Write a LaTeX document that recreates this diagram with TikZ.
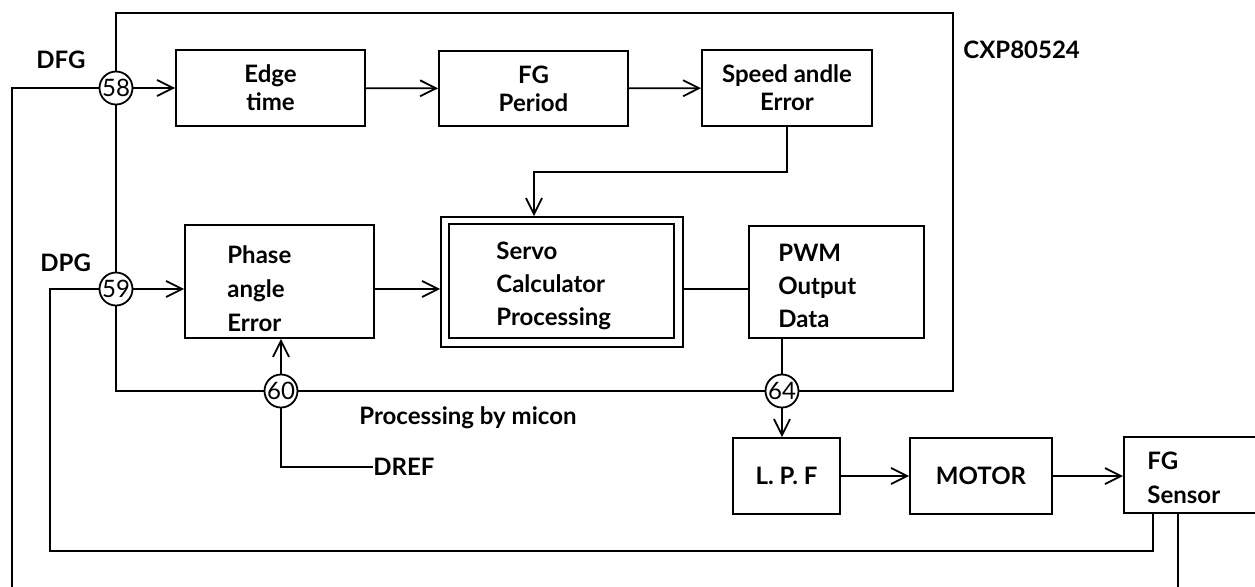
\documentclass[tikz,border=0pt]{standalone}
\usepackage{fontspec}
\setmainfont{Lato}
\usetikzlibrary{arrows.meta}
\begin{document}
\begin{tikzpicture}[x=0.5pt,y=-0.5pt,
  txt/.style={font=\bfseries\fontsize{12}{14}\selectfont, inner sep=0pt},
  box/.style={draw, line width=0.9pt, inner sep=0pt, font=\bfseries\fontsize{12}{14}\selectfont, align=center},
  pin/.style={draw, circle, fill=white, line width=0.9pt, inner sep=0pt, minimum size=16.5pt, font=\fontsize{12}{12}\selectfont},
  arr/.style={line width=0.9pt, -{Straight Barb[length=8pt,width=8pt,line width=0.9pt]}},
  ln/.style={line width=0.9pt},
  chip/.style={line width=1.3pt}]
\clip (0,0) rectangle (1255,586);
% chip outline
\draw[chip] (116,13) rectangle (953,391);
% blocks
\node[box, minimum width={189*0.5pt}, minimum height={76*0.5pt}] (edge) at (270.5,88) {Edge\\time};
\node[box, minimum width={189*0.5pt}, minimum height={75*0.5pt}] (fgp) at (533.5,88.5) {FG\\Period};
\node[box, minimum width={170*0.5pt}, minimum height={76*0.5pt}] (spd) at (787,88) {Speed andle\\Error};
\node[box, minimum width={189*0.5pt}, minimum height={113*0.5pt}] (phase) at (279.5,281.5) {};
\node[txt, anchor=west, align=left, font=\bfseries\fontsize{12}{17}\selectfont] (phaset) at (227,289) {Phase\\angle\\Error};
\node[box, minimum width={242*0.5pt}, minimum height={130*0.5pt}] (servo) at (562,282) {};
\node[box, minimum width={225*0.5pt}, minimum height={114*0.5pt}] (servoin) at (561.5,281) {};
\node[txt, anchor=west, align=left, font=\bfseries\fontsize{12}{16.5}\selectfont] (servot) at (496,286) {Servo\\Calculator\\Processing};
\node[box, minimum width={175*0.5pt}, minimum height={112*0.5pt}] (pwm) at (836.5,282) {};
\node[txt, anchor=west, align=left, font=\bfseries\fontsize{12}{16.5}\selectfont] (pwmt) at (778,286) {PWM\\Output\\Data};
\node[box, minimum width={107*0.5pt}, minimum height={76*0.5pt}] (lpf) at (786.5,476) {L. P. F};
\node[box, minimum width={142*0.5pt}, minimum height={76*0.5pt}] (motor) at (981,476) {MOTOR};
\node[box, minimum width={134*0.5pt}, minimum height={76*0.5pt}, anchor=west] (fgs) at (1123,475) {};
\node[txt, anchor=west, align=left, font=\bfseries\fontsize{12}{17}\selectfont] (fgst) at (1147,478) {FG\\Sensor};
% pins
\node[pin] (c58) at (116,88) {58};
\node[pin] (c59) at (116,289) {59};
\node[pin] (c60) at (281,391) {60};
\node[pin] (c64) at (782,391) {64};
% labels
\node[txt, anchor=west] (dfg) at (36,60) {DFG};
\node[txt, anchor=west] (dpg) at (40,263) {DPG};
\node[txt, anchor=west] (cxp) at (963,50) {CXP80524};
\node[txt, anchor=west] (proc) at (359,418) {Processing by micon};
\node[txt, anchor=west] (dref) at (373,467) {DREF};
% coordinates
\coordinate (k1) at (534,172);
\coordinate (o1) at (1153,551);
\coordinate (o2) at (50,551);
\coordinate (o3) at (1178,620);
\coordinate (o4) at (12,620);
% connectors
\draw[arr] (c58) -- (edge);
\draw[arr] (edge) -- (fgp);
\draw[arr] (fgp) -- (spd);
\draw[arr] (spd.south) |- (k1) -- (k1 |- servo.north);
\draw[arr] (c59) -- (c59 -| phase.west);
\draw[arr] (phase.east |- c59) -- (servo.west |- c59);
\draw[ln] (servo.east |- c59) -- (pwm.west |- c59);
\draw[ln] (pwm.south -| c64) -- (c64);
\draw[arr] (c64) -- (c64 |- lpf.north);
\draw[arr] (c60) -- (c60 |- phase.south);
\draw[ln] (c60) |- (dref.west);
\draw[arr] (lpf) -- (motor);
\draw[arr] (motor) -- (motor -| fgs.west);
\draw[ln] (fgs.south -| o1) -- (o1) -- (o2) |- (c59);
\draw[ln] (fgs.south -| o3) -- (o3) -- (o4) |- (c58);
\end{tikzpicture}
\end{document}
